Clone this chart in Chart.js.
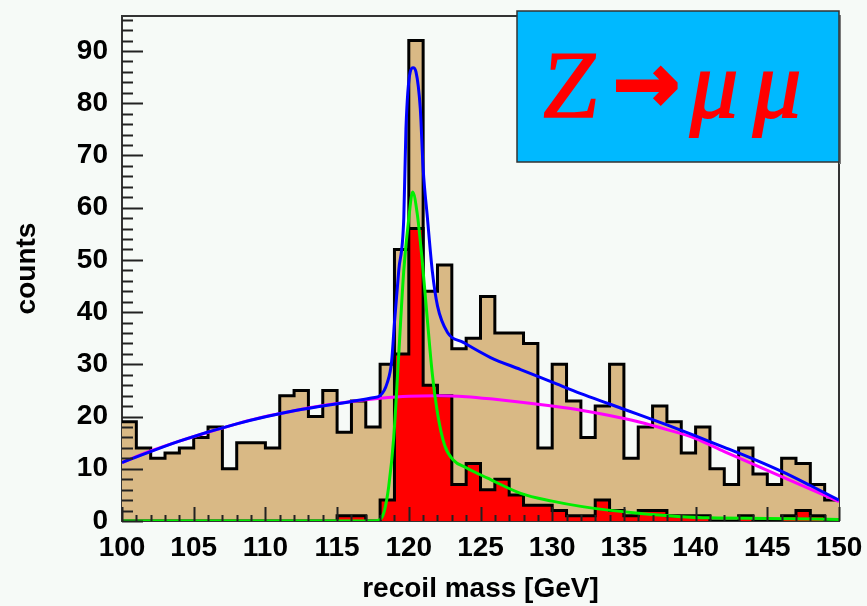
<!DOCTYPE html>
<html>
<head>
<meta charset="utf-8">
<title>recoil mass</title>
<script src="https://cdn.jsdelivr.net/npm/chart.js@4.4.1/dist/chart.umd.min.js"></script>
<style>
  html, body { margin: 0; padding: 0; background: #f6faf7; }
  canvas { display: block; }
</style>
</head>
<body>
<canvas id="recoil" width="867" height="606"></canvas>
<script>
// 1 GeV bins, lower edges
const binLow = [100, 101, 102, 103, 104, 105, 106, 107, 108, 109,
                110, 111, 112, 113, 114, 115, 116, 117, 118, 119,
                120, 121, 122, 123, 124, 125, 126, 127, 128, 129,
                130, 131, 132, 133, 134, 135, 136, 137, 138, 139,
                140, 141, 142, 143, 144, 145, 146, 147, 148, 149];
const binHigh = 150;

// all selected events
const allCounts = [19, 14, 12, 13, 14, 16, 18, 10, 15, 15,
                   14, 24, 25, 20, 25, 17, 23, 18, 30, 52,
                   92, 44, 49, 33, 35, 43, 36, 36, 34, 14,
                   30, 23, 16, 22, 30, 12, 18, 22, 19, 13,
                   18, 10, 7, 14, 9, 7, 12, 11, 7, 4];

// signal events
const sigCounts = [0, 0, 0, 0, 0, 0, 0, 0, 0, 0,
                   0, 0, 0, 0, 0, 1, 1, 0, 4, 32,
                   56, 26, 24, 7, 11, 6, 8, 5, 3, 3,
                   2, 1, 1, 4, 2, 1, 2, 2, 1, 1,
                   1, 0, 0, 1, 0, 0, 1, 2, 1, 0];

// background fit (magenta)
const bgMass = [100, 102, 104, 106, 108, 110, 112, 114, 116, 118, 120, 122, 124,
                126, 128, 130, 132, 134, 136, 138, 140, 142, 144, 146, 148, 150];
const bgFit  = [11.2, 13.4, 15.3, 17.0, 18.6, 20.0, 21.1, 22.1, 22.9, 23.5, 23.9, 24.0, 23.8,
                23.3, 22.7, 22.0, 21.2, 20.2, 19.0, 17.5, 15.8, 13.3, 10.9, 8.5, 6.1, 3.7];

// signal + background fit (blue)
const totMass = [100, 104, 108, 112, 116, 117.5, 118.0, 118.5, 118.8, 119.0, 119.3, 119.65,
                 119.8, 120.1, 120.3, 120.5, 120.8, 121.0, 121.3, 121.65, 122.0, 122.7,
                 123.8, 125.7, 127.8, 130, 132, 134, 136, 138, 140, 142, 144, 146, 148, 150];
const totFit  = [11.2, 15.3, 18.6, 21.1, 22.9, 23.6, 24.0, 26.5, 30.5, 38.0, 48.0, 58.0,
                 75.0, 86.0, 86.8, 86.0, 79.0, 67.5, 58.0, 47.6, 41.2, 36.1,
                 34.2, 31.3, 29.0, 26.6, 24.4, 22.4, 20.4, 18.4, 16.3, 14.1, 11.9, 9.5, 6.8, 4.0];

// signal fit (green)
const sigMass = [100, 117.5, 118.0, 118.3, 118.6, 118.95, 119.3, 119.65, 120.0, 120.27, 120.58,
                 120.93, 121.28, 121.63, 122.0, 122.5, 123.1, 124, 125.5, 127.8, 130, 132,
                 136, 141, 145, 150];
const sigFit  = [0, 0, 0.3, 2.0, 6.6, 16, 32, 48, 58, 63, 59,
                 50, 39, 28.4, 20.7, 14.5, 11.7, 10.2, 8.2, 5.3, 3.8, 2.8,
                 1.5, 0.6, 0.5, 0.3];

const yTop = 96.7;

// histogram as a step line: one point per lower edge, plus the closing edge
function steps(counts) {
  const pts = binLow.map((x, i) => ({ x: x, y: counts[i] }));
  pts.push({ x: binHigh, y: counts[counts.length - 1] });
  return pts;
}
function curve(xs, ys) {
  return xs.map((x, i) => ({ x: x, y: ys[i] }));
}

const axisFont = { family: 'Liberation Sans, Arial, sans-serif', weight: 'bold', size: 28 };

const rootFrame = {
  id: 'rootFrame',
  beforeDatasetsDraw(chart) {
    const { ctx, chartArea: a } = chart;
    ctx.save();
    ctx.strokeStyle = '#333';
    ctx.lineWidth = 2;
    ctx.strokeRect(a.left, a.top, a.right - a.left, a.bottom - a.top);
    ctx.restore();
  },
  afterDatasetsDraw(chart) {
    const { ctx, chartArea: a, scales } = chart;
    ctx.save();
    ctx.strokeStyle = '#222';
    ctx.lineWidth = 2;
    ctx.beginPath();
    // y ticks: major every 10, minor every 2
    for (let v = 0; v <= yTop; v += 2) {
      const py = Math.round(scales.y.getPixelForValue(v)) + 0.5;
      const len = v % 10 === 0 ? 21 : 11;
      ctx.moveTo(a.left, py);
      ctx.lineTo(a.left + len, py);
    }
    // x ticks: major every 5 GeV, minor every 1
    for (let m = 100; m <= 150; m += 1) {
      const px = Math.round(scales.x.getPixelForValue(m)) + 0.5;
      const len = m % 5 === 0 ? 14 : 6;
      ctx.moveTo(px, a.bottom);
      ctx.lineTo(px, a.bottom - len);
    }
    ctx.stroke();
    ctx.restore();
  },
  afterDraw(chart) {
    const { ctx } = chart;
    // label box
    const bx = 517, by = 11, bw = 322, bh = 151;
    ctx.save();
    ctx.fillStyle = '#7a7a7a';
    ctx.fillRect(bx + bw, by + 4, 2, bh - 2);
    ctx.fillStyle = '#00b9ff';
    ctx.fillRect(bx, by, bw, bh);
    ctx.strokeStyle = '#333';
    ctx.lineWidth = 1.5;
    ctx.strokeRect(bx, by, bw, bh);

    ctx.fillStyle = '#ff0000';
    ctx.strokeStyle = '#ff0000';
    ctx.textBaseline = 'alphabetic';
    ctx.textAlign = 'left';
    ctx.lineWidth = 1.5;

    // Z, leaning a little
    ctx.save();
    ctx.translate(540, 117);
    ctx.transform(1, 0, -0.08, 1, 0, 0);
    ctx.font = '96px "Liberation Serif", "Times New Roman", serif';
    ctx.fillText('Z', 0, 0);
    ctx.strokeText('Z', 0, 0);
    ctx.restore();

    ctx.font = 'bold 80px "DejaVu Sans", sans-serif';
    ctx.lineWidth = 3;
    ctx.fillText('\u2192', 613, 111);
    ctx.strokeText('\u2192', 613, 111);

    ctx.font = 'italic 96px "Liberation Serif", "Times New Roman", serif';
    ctx.lineWidth = 2;
    ctx.fillText('\u03bc', 690, 117);
    ctx.strokeText('\u03bc', 690, 117);
    ctx.fillText('\u03bc', 753, 117);
    ctx.strokeText('\u03bc', 753, 117);
    ctx.restore();
  }
};

new Chart(document.getElementById('recoil'), {
  type: 'line',
  data: {
    datasets: [
      {
        data: steps(allCounts),
        stepped: true,
        fill: 'origin',
        backgroundColor: '#d9b985',
        borderColor: '#000',
        borderWidth: 3,
        borderJoinStyle: 'miter',
        pointRadius: 0,
        order: 5
      },
      {
        data: steps(sigCounts),
        stepped: true,
        fill: 'origin',
        backgroundColor: '#ff0000',
        borderColor: '#000',
        borderWidth: 3,
        borderJoinStyle: 'miter',
        pointRadius: 0,
        order: 4
      },
      {
        data: curve(bgMass, bgFit),
        borderColor: '#ff00ff',
        borderWidth: 3,
        pointRadius: 0,
        cubicInterpolationMode: 'monotone',
        fill: false,
        order: 3
      },
      {
        data: curve(totMass, totFit),
        borderColor: '#0000ff',
        borderWidth: 3,
        pointRadius: 0,
        cubicInterpolationMode: 'monotone',
        fill: false,
        order: 2
      },
      {
        data: curve(sigMass, sigFit),
        borderColor: '#00ee00',
        borderWidth: 3,
        pointRadius: 0,
        cubicInterpolationMode: 'monotone',
        fill: false,
        order: 1
      }
    ]
  },
  options: {
    responsive: false,
    animation: false,
    layout: { padding: { top: 16, right: 28, left: 0, bottom: 0 } },
    plugins: {
      legend: { display: false },
      tooltip: { enabled: false }
    },
    scales: {
      x: {
        type: 'linear',
        min: 100,
        max: 150,
        grid: { display: false, drawTicks: false },
        border: { display: false },
        ticks: { stepSize: 5, color: '#000', font: axisFont, padding: 10, maxRotation: 0, includeBounds: false },
        title: { display: true, text: 'recoil mass [GeV]', color: '#000', font: axisFont, padding: { top: 0, bottom: 0 } },
        afterFit(scale) {
          scale.height = 85;
          scale.paddingLeft = 0;
          scale.paddingRight = 0;
        }
      },
      y: {
        min: 0,
        max: yTop,
        grid: { display: false, drawTicks: false },
        border: { display: false },
        ticks: { stepSize: 10, color: '#000', font: axisFont, padding: 14, includeBounds: false },
        title: { display: true, text: 'counts', color: '#000', font: axisFont, padding: { top: 10, bottom: 0 } },
        afterFit(scale) {
          scale.width = 122;
          scale.paddingTop = 0;
          scale.paddingBottom = 0;
        }
      }
    }
  },
  plugins: [rootFrame]
});
</script>
</body>
</html>
